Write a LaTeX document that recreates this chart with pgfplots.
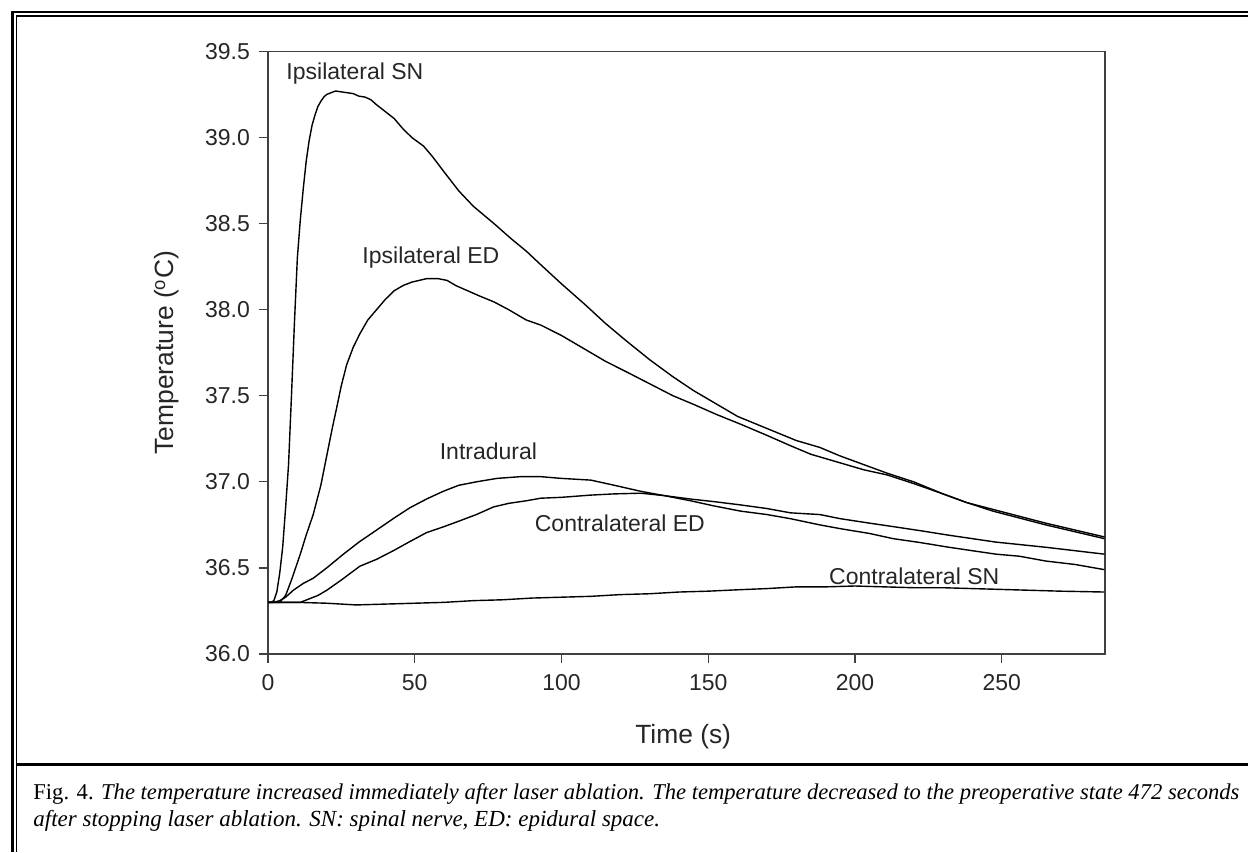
\documentclass[border=0pt]{standalone}
\usepackage{graphicx}
\usepackage{pgfplots}
\pgfplotsset{compat=1.18}
\usepackage{fontspec}
\setmainfont{Liberation Sans}
\newfontfamily\capfont{Liberation Serif}
\begin{document}
\begin{tikzpicture}
\useasboundingbox (0,0) rectangle (624pt,-426pt);
% frame
\draw[line width=1.4pt] (6.4pt,-426pt) -- (6.4pt,-6pt) -- (624pt,-6pt);
\draw[line width=0.7pt] (8.2pt,-426pt) -- (8.2pt,-7.9pt) -- (624pt,-7.9pt);
\draw[line width=1.5pt] (8.2pt,-382.2pt) -- (624pt,-382.2pt);
\begin{axis}[
  at={(134pt,-327pt)}, anchor=south west,
  scale only axis, width=418.5pt, height=301.3pt,
  xmin=0, xmax=285.2, ymin=36, ymax=39.5,
  xtick={0,50,100,150,200,250},
  ytick={36,36.5,37,37.5,38,38.5,39,39.5},
  yticklabel style={xshift=-1pt,/pgf/number format/.cd,fixed,fixed zerofill,precision=1},
  xticklabel style={yshift=-2pt},
  /pgf/number format/assume math mode=true,
  tick align=outside, tick pos=left,
  major tick length=4.5pt,
  tick style={black!75, line width=0.6pt},
  axis line style={black!75, line width=0.6pt},
  ticklabel style={font=\fontsize{11.5}{13}\selectfont, black!85},
  xlabel={Time (s)}, ylabel={Temperature (\textsuperscript{o}C)},
  every axis x label/.style={at={(axis description cs:0.496,-0.1374)},anchor=center,font=\fontsize{13.2}{15}\selectfont,text=black!85},
  every axis y label/.style={at={(axis description cs:-0.1207,0.5)},anchor=center,rotate=90,font=\fontsize{13.2}{15}\selectfont,text=black!85},
  clip=true,
]
\addplot[black, line width=0.7pt] coordinates {
(0,36.30) (1,36.30) (2,36.31) (3,36.36) (4,36.47) (5,36.62) (6,36.85) (7,37.10) (8,37.50) (9,37.92) (10,38.30) (11,38.52) (12,38.70) (13,38.86) (14,38.98) (15,39.07) (16,39.13) (17,39.18) (18,39.21) (19,39.235) (20,39.25) (21.5,39.26) (23,39.27) (25,39.265) (27,39.26) (29,39.255) (31,39.24) (33,39.235) (35,39.22) (37,39.19) (40,39.15) (43,39.11) (46,39.05) (49,39.00) (53,38.95) (56,38.89) (60,38.80) (65,38.69) (70,38.60) (77,38.50) (83,38.41) (88,38.34) (93,38.26) (100,38.15) (108,38.03) (115,37.92) (122,37.82) (130,37.71) (138,37.61) (145,37.53) (152,37.46) (160,37.38) (170,37.31) (180,37.24) (188,37.20) (195,37.15) (203,37.10) (211,37.05) (220,37.00) (230,36.93) (238,36.88) (247,36.84) (256,36.80) (265,36.76) (275,36.72) (285,36.68)
};
\addplot[black, line width=0.7pt] coordinates {
(0,36.30) (4,36.30) (6,36.34) (8,36.43) (11,36.58) (13,36.69) (15.4,36.81) (18,36.98) (20,37.15) (22,37.32) (23.4,37.43) (25,37.56) (26.8,37.68) (29,37.78) (31.3,37.86) (34,37.94) (37,38.00) (40,38.06) (43,38.11) (46,38.14) (49,38.16) (54,38.18) (58,38.18) (61,38.17) (64,38.14) (68,38.11) (72,38.08) (77,38.045) (82,38.00) (88,37.94) (93,37.91) (100,37.85) (108,37.77) (115,37.70) (122,37.64) (130,37.57) (138,37.50) (145,37.45) (153,37.39) (161,37.335) (170,37.27) (178,37.21) (185,37.16) (195,37.11) (203,37.07) (211,37.04) (220,36.99) (230,36.93) (238,36.88) (247,36.83) (256,36.79) (265,36.75) (275,36.71) (285,36.67)
};
\addplot[black, line width=0.7pt] coordinates {
(0,36.30) (2,36.30) (4,36.31) (6,36.33) (8.6,36.37) (12,36.41) (15.4,36.44) (20,36.50) (25.7,36.58) (31,36.65) (37,36.72) (43,36.79) (48.4,36.85) (54,36.90) (59.7,36.945) (65,36.98) (71,37.00) (78,37.02) (86,37.03) (93,37.03) (100,37.02) (110,37.01) (118,36.98) (127,36.945) (135,36.92) (144,36.89) (152,36.86) (161,36.83) (170,36.81) (178,36.786) (188,36.75) (195,36.728) (205,36.70) (213,36.67) (222,36.648) (232,36.62) (240,36.60) (248,36.58) (256,36.568) (265,36.54) (275,36.52) (285,36.49)
};
\addplot[black, line width=0.7pt] coordinates {
(0,36.30) (8,36.30) (11,36.30) (14,36.32) (17,36.34) (20,36.37) (25,36.43) (31.3,36.51) (37,36.55) (42.7,36.60) (48,36.65) (54,36.705) (60,36.74) (65.4,36.774) (71,36.81) (76.8,36.854) (82,36.875) (88,36.89) (93,36.905) (100,36.91) (110,36.923) (118,36.93) (127,36.934) (135,36.92) (144,36.90) (152,36.885) (161,36.866) (170,36.845) (178,36.82) (188,36.81) (195,36.786) (205,36.76) (213,36.74) (222,36.717) (232,36.69) (240,36.67) (248,36.65) (256,36.636) (265,36.62) (275,36.60) (285,36.58)
};
\addplot[black, line width=0.7pt] coordinates {
(0,36.30) (10,36.30) (20,36.295) (30,36.285) (40,36.29) (50,36.295) (60,36.30) (70,36.31) (80,36.315) (90,36.325) (100,36.33) (110,36.335) (120,36.345) (130,36.35) (140,36.36) (150,36.365) (160,36.373) (170,36.38) (180,36.39) (190,36.39) (200,36.395) (210,36.39) (220,36.385) (230,36.385) (240,36.38) (250,36.375) (260,36.37) (270,36.365) (285,36.36)
};
\begin{scope}[every node/.style={font=\fontsize{11.5}{13}\selectfont, text=black!85, inner sep=0pt}]
\node at (axis cs:29.6,39.374) {Ipsilateral SN};
\node at (axis cs:55.5,38.30) {Ipsilateral ED};
\node at (axis cs:75.1,37.175) {Intradural};
\node at (axis cs:119.9,36.762) {Contralateral ED};
\node at (axis cs:220.2,36.453) {Contralateral SN};
\end{scope}
\end{axis}
\node[anchor=base west, inner sep=0pt, font=\capfont\fontsize{11.5}{14}\selectfont] at (16.5pt,-399.5pt)
  {\resizebox{603pt}{!}{Fig. 4. \itshape The temperature increased immediately after laser ablation. The temperature decreased to the preoperative state 472 seconds}};
\node[anchor=base west, inner sep=0pt, font=\capfont\fontsize{11.5}{14}\selectfont\itshape] at (16.5pt,-413.3pt)
  {after stopping laser ablation. SN: spinal nerve, ED: epidural space.};
\end{tikzpicture}
\end{document}
